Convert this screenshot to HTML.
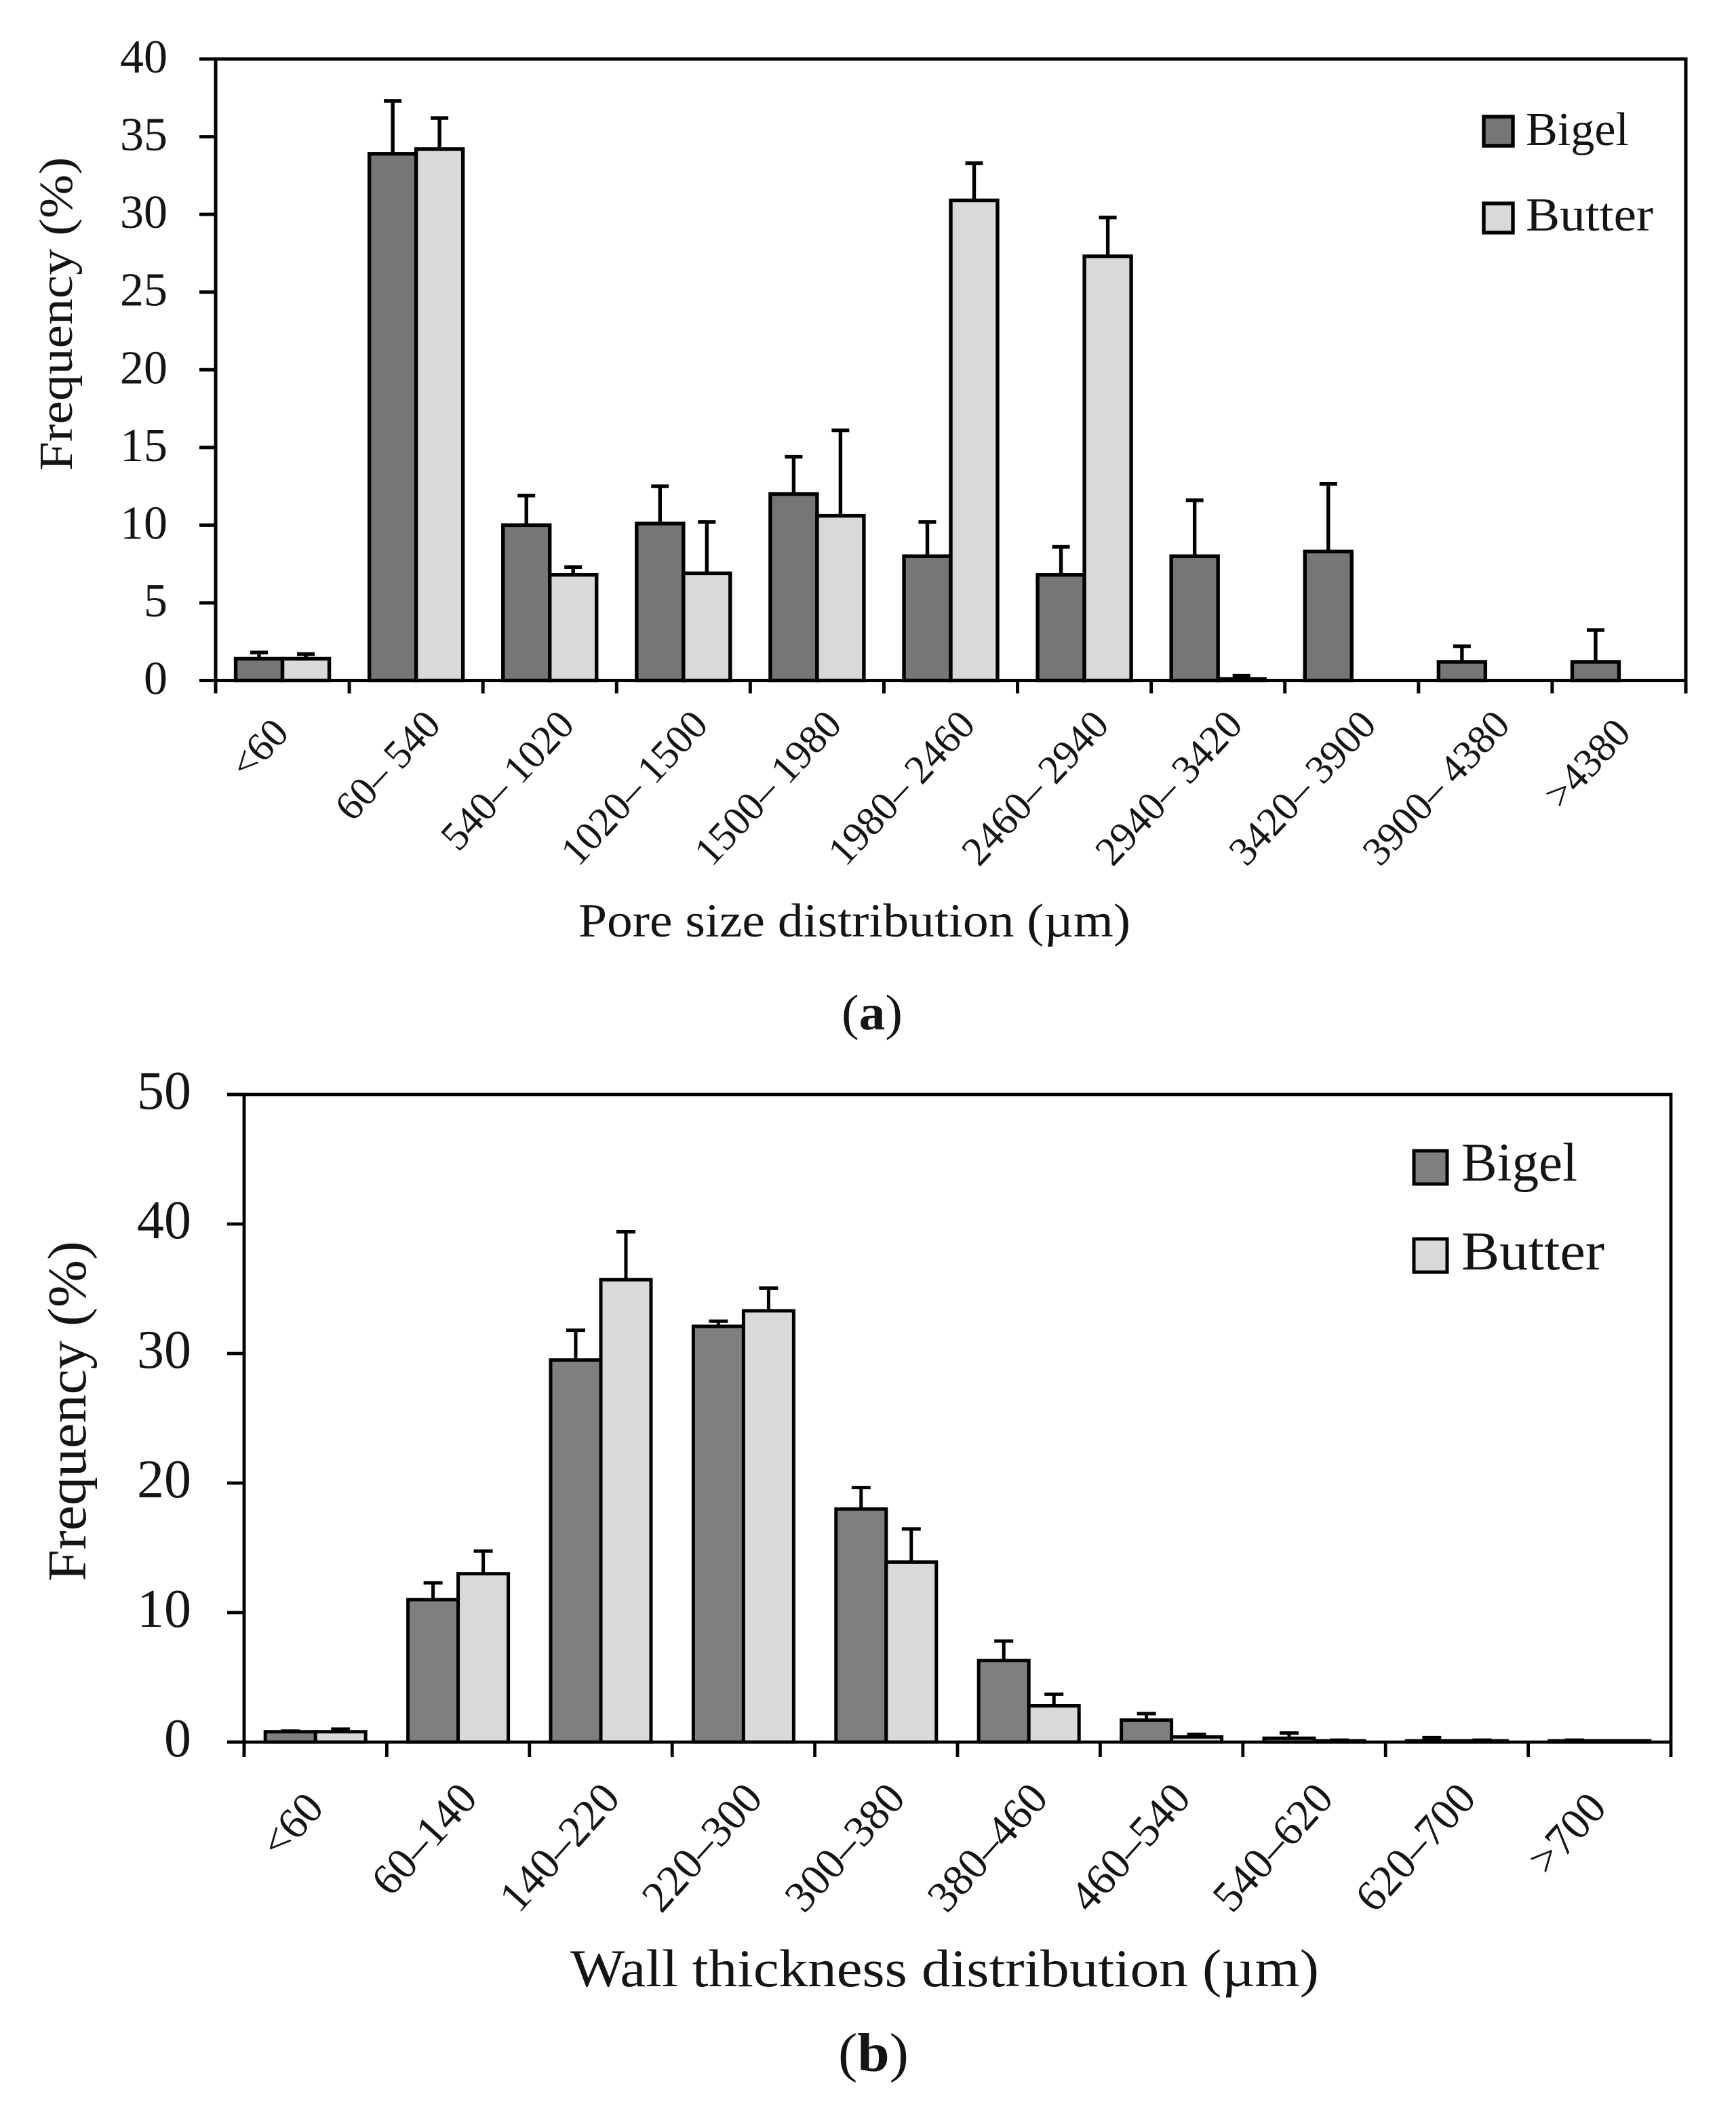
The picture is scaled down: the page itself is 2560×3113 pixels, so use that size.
<!DOCTYPE html>
<html lang="en">
<head>
<meta charset="utf-8">
<title>Pore size and wall thickness distribution</title>
<style>
html,body{margin:0;padding:0;background:#fff;}
svg{display:block;}
text{font-family:"Liberation Serif","DejaVu Serif",serif;fill:#141414;}
</style>
</head>
<body>
<svg id="figure" xmlns="http://www.w3.org/2000/svg" width="2560" height="3113" viewBox="0 0 2560 3113">
  <rect x="0" y="0" width="2560" height="3113" fill="#ffffff"/>
  <text x="1286" y="1518" font-size="74" text-anchor="middle" textLength="90" lengthAdjust="spacingAndGlyphs">(<tspan font-weight="bold">a</tspan>)</text>
  <text x="1288" y="3054" font-size="80" text-anchor="middle" textLength="104" lengthAdjust="spacingAndGlyphs">(<tspan font-weight="bold">b</tspan>)</text>
</svg>
<script>
const poreCategories = ["<60","60\u2013 540","540\u2013 1020","1020\u2013 1500","1500\u2013 1980","1980\u2013 2460","2460\u2013 2940","2940\u2013 3420","3420\u2013 3900","3900\u2013 4380",">4380"];
const poreBigel = [1.4,33.9,10,10.1,12,8,6.8,8,8.3,1.2,1.2];
const poreButter = [1.4,34.2,6.8,6.9,10.6,30.9,27.3,0.1,0,0,0];
const poreBigelError = [0.4,3.4,1.9,2.4,2.4,2.2,1.8,3.6,4.35,1,2.05];
const poreButterError = [0.3,2,0.5,3.3,5.5,2.4,2.5,0.2,0,0,0];
const poreTicks = [0,5,10,15,20,25,30,35,40];

const wallCategories = ["<60","60\u2013140","140\u2013220","220\u2013300","300\u2013380","380\u2013460","460\u2013540","540\u2013620","620\u2013700",">700"];
const wallBigel = [0.8,11,29.5,32.1,18,6.3,1.7,0.3,0.1,0.1];
const wallButter = [0.8,13,35.7,33.3,13.9,2.8,0.4,0.1,0.1,0.1];
const wallBigelError = [0.05,1.3,2.3,0.4,1.65,1.5,0.5,0.4,0.25,0.05];
const wallButterError = [0.2,1.75,3.7,1.75,2.55,0.9,0.2,0.05,0.05,0];
const wallTicks = [0,10,20,30,40,50];

const SVG_NS = "http://www.w3.org/2000/svg";
const figure = document.getElementById("figure");

function make(parent, tag, attrs, content) {
  const el = document.createElementNS(SVG_NS, tag);
  for (const key in attrs) {
    el.setAttribute(key, attrs[key]);
  }
  if (content !== undefined) {
    el.textContent = content;
  }
  parent.appendChild(el);
  return el;
}

function drawChart(c) {
  const root = make(figure, "g", {});
  
  

  const band = (c.right - c.left) / c.categories.length;
  const xCenter = (i) => c.left + band * (i + 0.5);
  const yScale = (v) => c.zero - (v / c.yMax) * (c.zero - c.top);

  const drawBars = (values, errors, offset, fill, seriesName) => {
    const group = make(root, "g", {});
    
    
    values.forEach((v, i) => {
      if (v <= 0) {
        return;
      }
      const x = xCenter(i) + offset;
      const bar = make(group, "rect", {
        x: x,
        y: yScale(v),
        width: c.barWidth,
        height: c.zero - yScale(v),
        fill: fill,
        stroke: "#000",
        "stroke-width": c.barStroke
      });
      
      
    });
    values.forEach((v, i) => {
      if (v <= 0 || errors[i] <= 0) {
        return;
      }
      const cx = xCenter(i) + offset + c.barWidth / 2;
      const tipY = yScale(v + errors[i]);
      const stem = make(group, "line", {
        x1: cx, x2: cx, y1: yScale(v), y2: tipY,
        stroke: "#000", "stroke-width": c.barStroke
      });
      
      
      const cap = make(group, "line", {
        x1: cx - c.capHalf, x2: cx + c.capHalf, y1: tipY, y2: tipY,
        stroke: "#000", "stroke-width": c.barStroke
      });
      
      
    });
  };

  drawBars(c.seriesA, c.errorA, -c.barWidth, c.darkFill, "bigel");
  drawBars(c.seriesB, c.errorB, 0, "#d9d9d9", "butter");

  const frame = make(root, "path", {
    d: "M" + (c.left - c.tickLeft) + " " + c.top + "H" + c.right + "V" + (c.zero + c.tickDown) +
       "M" + c.right + " " + c.zero + "H" + (c.left - c.tickLeft) +
       "M" + c.left + " " + c.top + "V" + (c.zero + c.tickDown),
    fill: "none", stroke: "#000", "stroke-width": c.stroke
  });
  
  

  c.ticks.forEach((t) => {
    const y = yScale(t);
    const tick = make(root, "line", {
      x1: c.left - c.tickLeft, x2: c.left, y1: y, y2: y,
      stroke: "#000", "stroke-width": c.stroke
    });
    
    
    const label = make(root, "text", {
      x: c.yLabelRight, y: y + c.yLabelDrop,
      "font-size": c.tickFont, "text-anchor": "end"
    }, String(t));
    
    
  });

  c.categories.forEach((name, i) => {
    const x = c.left + band * i;
    const tick = make(root, "line", {
      x1: x, x2: x, y1: c.zero, y2: c.zero + c.tickDown,
      stroke: "#000", "stroke-width": c.stroke
    });
    
    
    const isOpenEnded = name[0] === "<" || name[0] === ">";
    const lx = xCenter(i) + (isOpenEnded ? c.shortOffset[name[0]] : c.longOffset);
    const ly = c.labelY + (isOpenEnded ? c.shortDrop : 0);
    const label = make(root, "text", {
      x: lx, y: ly, "font-size": c.catFont, "text-anchor": "end",
      transform: "rotate(" + c.catAngle + " " + lx + " " + ly + ")"
    }, name);
    
    
  });

  const yTitle = make(root, "text", {
    x: c.yTitleX, y: c.yTitleY, "font-size": c.tickFont, "text-anchor": "middle",
    textLength: c.yTitleLen, lengthAdjust: "spacingAndGlyphs",
    transform: "rotate(-90 " + c.yTitleX + " " + c.yTitleY + ")"
  }, "Frequency (%)");
  
  

  const xTitle = make(root, "text", {
    x: c.xTitleX, y: c.xTitleY, "font-size": c.xTitleFont,
    textLength: c.xTitleLen, lengthAdjust: "spacingAndGlyphs"
  }, c.xTitle);
  
  

  c.legend.forEach((entry, i) => {
    const swatch = make(root, "rect", {
      x: c.legendX, y: entry.swatchY, width: c.swatchW, height: c.swatchH,
      fill: i === 0 ? c.darkFill : "#d9d9d9", stroke: "#000", "stroke-width": c.barStroke
    });
    
    
    const text = make(root, "text", {
      x: c.legendTextX, y: entry.baseline, "font-size": c.tickFont,
      textLength: entry.len, lengthAdjust: "spacingAndGlyphs"
    }, entry.name);
    
    
  });
}

drawChart({
  id: "pore-size",
  categories: poreCategories, seriesA: poreBigel, seriesB: poreButter,
  errorA: poreBigelError, errorB: poreButterError, ticks: poreTicks,
  yMax: 40, left: 318, right: 2486, top: 87, zero: 1003.5,
  barWidth: 69, capHalf: 13, stroke: 5, barStroke: 5.4, tickLeft: 24, tickDown: 19,
  darkFill: "#767676", tickFont: 70, catFont: 60, catAngle: -47,
  yLabelRight: 247, yLabelDrop: 20,
  longOffset: 39, shortOffset: {"<": 12, ">": 20}, labelY: 1071, shortDrop: 12,
  yTitleX: 106, yTitleY: 463, yTitleLen: 463,
  xTitle: "Pore size distribution (\u00b5m)", xTitleX: 853, xTitleY: 1381, xTitleFont: 70, xTitleLen: 814,
  legendX: 2188, swatchW: 43, swatchH: 43, legendTextX: 2250,
  legend: [
    {name: "Bigel", swatchY: 172, baseline: 214, len: 152},
    {name: "Butter", swatchY: 300, baseline: 340, len: 188}
  ]
});

drawChart({
  id: "wall-thickness",
  categories: wallCategories, seriesA: wallBigel, seriesB: wallButter,
  errorA: wallBigelError, errorB: wallButterError, ticks: wallTicks,
  yMax: 50, left: 360, right: 2464, top: 1614, zero: 2569,
  barWidth: 74, capHalf: 14, stroke: 4.8, barStroke: 5, tickLeft: 25, tickDown: 22,
  darkFill: "#7f7f7f", tickFont: 80, catFont: 65, catAngle: -48,
  yLabelRight: 282, yLabelDrop: 21,
  longOffset: 31, shortOffset: {"<": 15, ">": 13}, labelY: 2654, shortDrop: 14,
  yTitleX: 126, yTitleY: 2081, yTitleLen: 502,
  xTitle: "Wall thickness distribution (\u00b5m)", xTitleX: 841, xTitleY: 2929, xTitleFont: 78, xTitleLen: 1104,
  legendX: 2085, swatchW: 49, swatchH: 49, legendTextX: 2155,
  legend: [
    {name: "Bigel", swatchY: 1697, baseline: 1741, len: 171},
    {name: "Butter", swatchY: 1827, baseline: 1872, len: 211}
  ]
});
</script>
</body>
</html>
